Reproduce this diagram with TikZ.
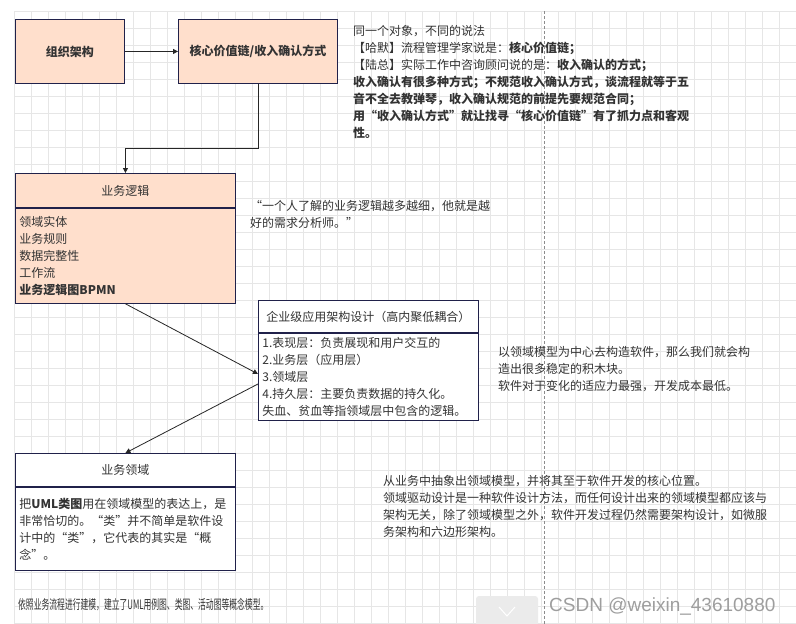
\documentclass[tikz,border=0pt]{standalone}
\usepackage{fontspec}
\setmainfont{Noto Sans CJK SC}
\newfontfamily\narrowfont{Noto Sans CJK SC}[FakeStretch=0.6]
\newfontfamily\markfont{Liberation Sans}
\usetikzlibrary{positioning,arrows.meta}
\definecolor{peach}{HTML}{FFDFCC}
\definecolor{navy}{HTML}{20214A}
\definecolor{gridgray}{HTML}{E6E6E6}
\definecolor{ink}{HTML}{333333}
\newcommand{\basefont}{\fontsize{12}{17}\selectfont}

\begin{document}
\begin{tikzpicture}[x=1pt,y=-1pt,
  box/.style={draw=navy,line width=0.9pt,fill=peach,text=ink,inner sep=2pt,anchor=north west,font=\basefont\bfseries},
  hdr/.style={draw=navy,line width=0.9pt,minimum width=220pt,text=ink,inner sep=0pt,anchor=north west,font=\basefont},
  bdy/.style={draw=navy,line width=0.9pt,minimum width=220pt,text width=212pt,align=left,text=ink,inner sep=4pt,below=0pt of #1,font=\basefont},
  note/.style={anchor=north west,align=left,inner sep=0pt,text=ink,font=\basefont},
  arr/.style={draw=black!85,line width=0.8pt,-{Triangle[length=5pt,width=5pt]}}]
  \useasboundingbox[fill=white] (0,0) rectangle (796,624);
  \foreach \i in {0,...,46} \draw[gridgray] (14+17*\i,11) -- (14+17*\i,624);
  \foreach \j in {0,...,36} \draw[gridgray] (14,11+17*\j) -- (796,11+17*\j);
  \draw[black!45,dash pattern=on 3pt off 2pt] (544,11) -- (544,624);

  \node[box,minimum width=109pt,minimum height=64pt] (org) at (15,19) {组织架构};
  \node[box,minimum width=159pt,minimum height=64pt] (core) at (178,19) {核心价值链/收入确认方式};

  \node[hdr,fill=peach,minimum height=34pt] (logic) at (15,173) {业务逻辑};
  \node[bdy=logic,fill=peach,minimum height=95pt] (logicbody) {领域实体\\业务规则\\数据完整性\\工作流\\\textbf{业务逻辑图BPMN}};

  \node[hdr,fill=white,minimum height=32pt] (arch) at (258,300) {企业级应用架构设计（高内聚低耦合）};
  \node[bdy=arch,fill=white,minimum height=86pt] (archbody) {1.表现层：负责展现和用户交互的\\2.业务层（应用层）\\3.领域层\\4.持久层：主要负责数据的持久化。\\失血、贫血等指领域层中包含的逻辑。};

  \node[hdr,fill=white,minimum height=33pt] (domain) at (15,453) {业务领域};
  \node[bdy=domain,fill=white,minimum height=83pt] (domainbody) {把\textbf{UML类图}用在领域模型的表达上，是\\非常恰切的。“类”并不简单是软件设\\计中的“类”，它代表的其实是“概\\念”。};

  \node[note] (sayings) at (353,25) {同一个对象，不同的说法\\
    【哈默】流程管理学家说是：\textbf{核心价值链；}\\
    【陆总】实际工作中咨询顾问说的是：\textbf{收入确认的方式；}\\
    \textbf{收入确认有很多种方式；不规范收入确认方式，谈流程就等于五}\\
    \textbf{音不全去教弹琴，收入确认规范的前提先要规范合同；}\\
    \textbf{用“收入确认方式”就让找寻“核心价值链”有了抓力点和客观}\\
    \textbf{性。}};
  \node[note] (quote) at (250,200) {“一个人了解的业务逻辑越多越细，他就是越\\好的需求分析师。”};
  \node[note] (modelnote) at (498,346) {以领域模型为中心去构造软件，那么我们就会构\\造出很多稳定的积木块。\\软件对于变化的适应力最强，开发成本最低。};
  \node[note] (dddnote) at (383,475) {从业务中抽象出领域模型，并将其至于软件开发的核心位置。\\领域驱动设计是一种软件设计方法，而任何设计出来的领域模型都应该与\\架构无关，除了领域模型之外，软件开发过程仍然需要架构设计，如微服\\务架构和六边形架构。};
  \node[anchor=west,inner sep=0pt,text=ink,font=\narrowfont\fontsize{13}{17}\selectfont] (summary) at (18,605) {依照业务流程进行建模，建立了UML用例图、类图、活动图等概念模型。};

  \draw[fill=black!8,draw=none,rounded corners=3pt] (476,596) rectangle (538,632);
  \draw[white,line width=1pt] (499,607) -- (507,616) -- (515,607);
  \node[anchor=west,inner sep=0pt,text=black!38,font=\markfont\fontsize{19}{19}\selectfont] (mark) at (549,606) {CSDN @weixin\_43610880};

  \draw[arr] (org) -- (core);
  \draw[arr] (core.south) -- ++(0,64) -| (logic.north);
  \draw[arr] (logicbody.south) -- ([yshift=3pt]archbody.west);
  \draw[arr] ([yshift=-7pt]archbody.west) -- (domain.north);
\end{tikzpicture}
\end{document}
